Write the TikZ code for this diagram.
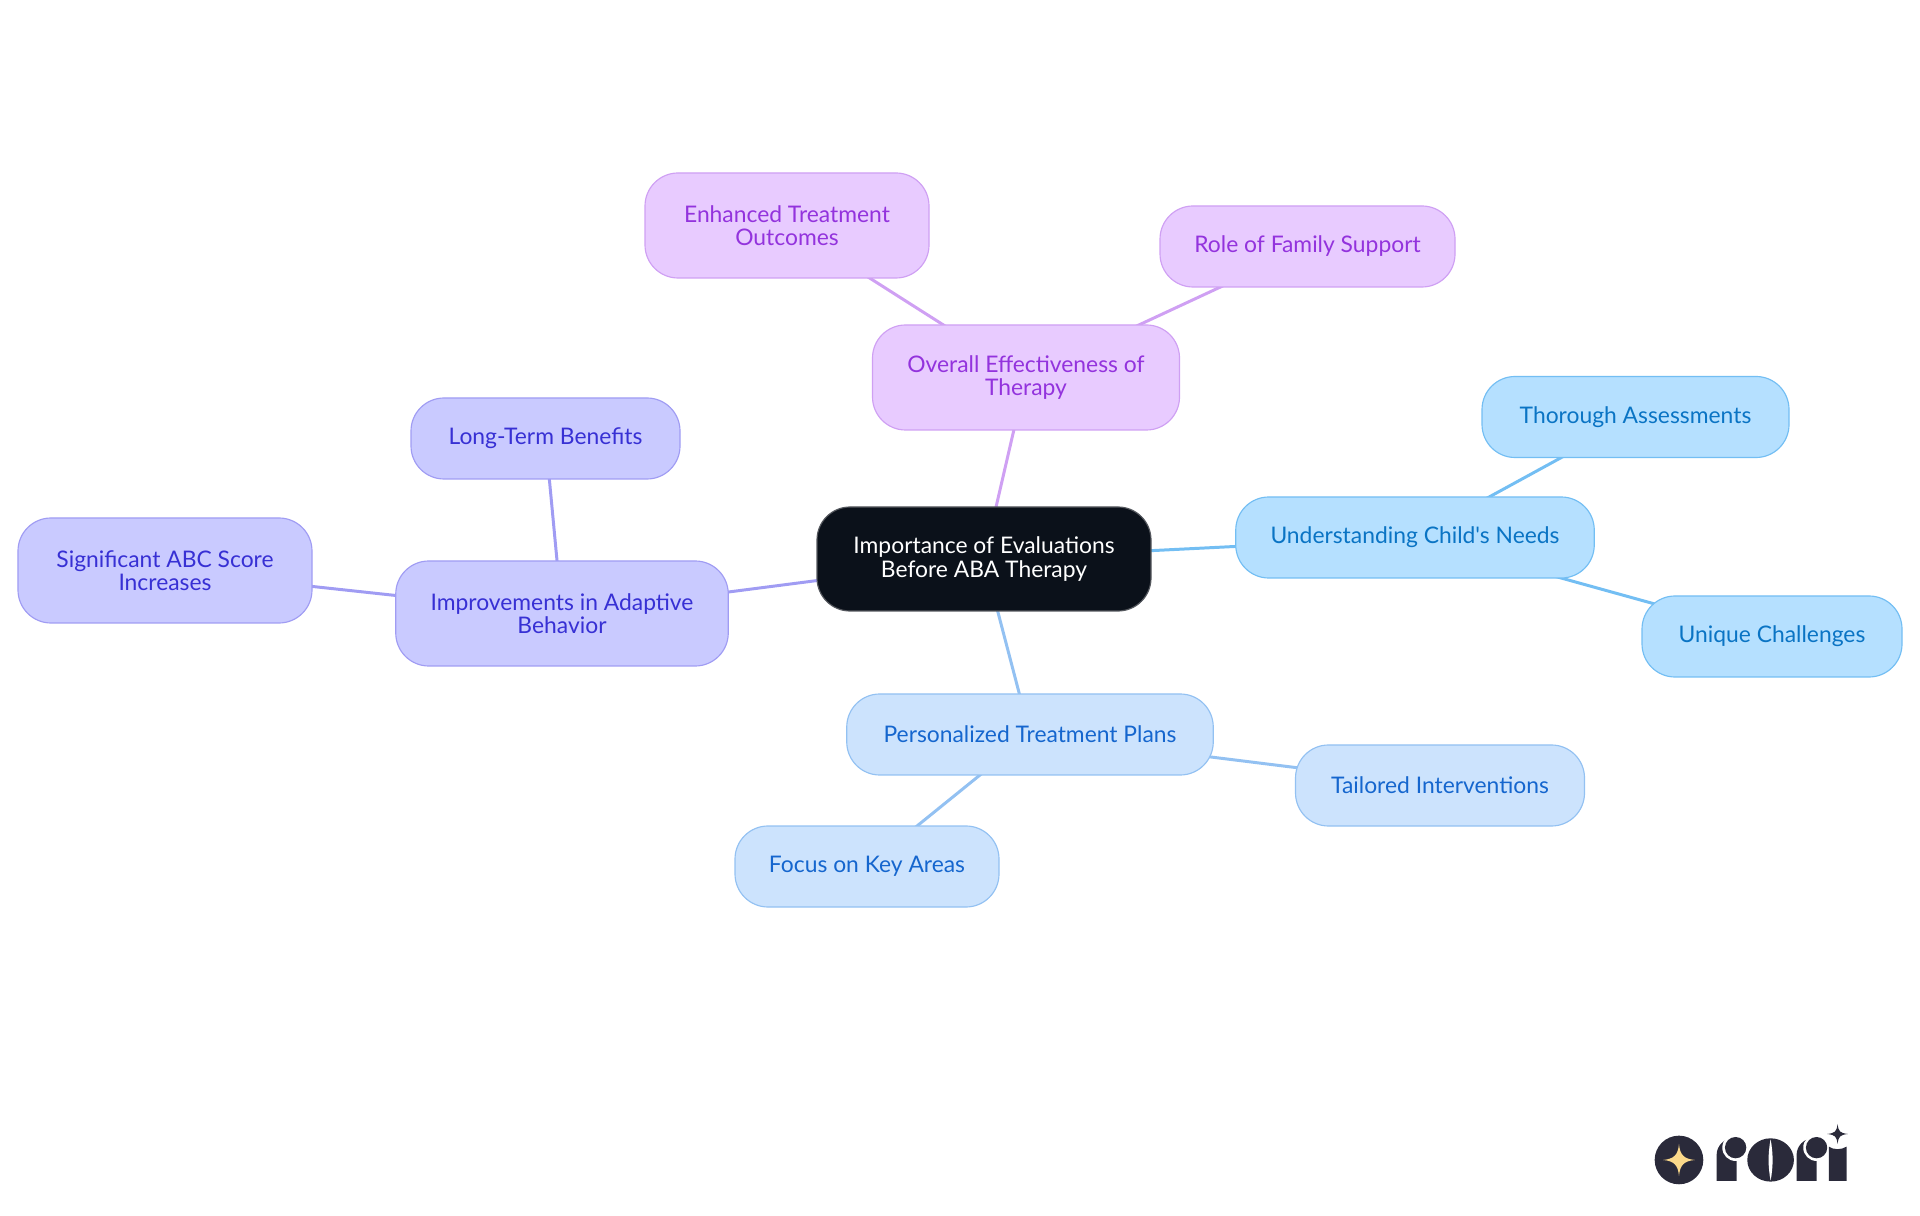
\documentclass[tikz,border=0pt]{standalone}
\usepackage{fontspec}
\newfontfamily\mapfont{Lato}
\usetikzlibrary{backgrounds}
\definecolor{rootfill}{HTML}{0B111A}
\definecolor{rootline}{HTML}{55585E}
\definecolor{purplefill}{HTML}{E8CBFF}
\definecolor{purpleline}{HTML}{CFA0F3}
\definecolor{purpletext}{HTML}{9333DD}
\definecolor{indigofill}{HTML}{C9CAFF}
\definecolor{indigoline}{HTML}{A09CF3}
\definecolor{indigotext}{HTML}{3730D4}
\definecolor{skyfill}{HTML}{B5E0FF}
\definecolor{skyline}{HTML}{73BEF3}
\definecolor{skytext}{HTML}{0A74C4}
\definecolor{bluefill}{HTML}{CCE3FD}
\definecolor{blueline}{HTML}{93C1F2}
\definecolor{bluetext}{HTML}{1566CE}
\definecolor{logodark}{HTML}{2A2A3A}
\definecolor{logostar}{HTML}{FBD98A}
\tikzset{
    mapbox/.style={rectangle,rounded corners=0.33cm,align=center,inner sep=0pt,line width=0.33pt,
        font={\mapfont\fontsize{6.5}{6.7}\selectfont\lineskiplimit=-10pt}},
    rootbox/.style={mapbox,draw=rootline,fill=rootfill,text=white},
    purplebox/.style={mapbox,draw=purpleline,fill=purplefill,text=purpletext},
    indigobox/.style={mapbox,draw=indigoline,fill=indigofill,text=indigotext},
    skybox/.style={mapbox,draw=skyline,fill=skyfill,text=skytext},
    bluebox/.style={mapbox,draw=blueline,fill=bluefill,text=bluetext},
    sized/.style 2 args={minimum width=#1cm,minimum height=#2cm},
    edge/.style={line width=0.85pt}
}
\begin{document}
\begin{tikzpicture}
    \useasboundingbox (0,0) rectangle (19.2,12.15);
    %% root
    \node[rootbox,sized={3.34}{1.04}] (root) at (9.84,6.56) {Importance of Evaluations\\Before ABA Therapy};
    %% overall effectiveness
    \node[purplebox,sized={3.07}{1.05}] (overall) at (10.26,8.375) {Overall Effectiveness of\\Therapy};
    \node[purplebox,sized={2.84}{1.05}] (enhanced) at (7.87,9.895) {Enhanced Treatment\\Outcomes};
    \node[purplebox,sized={2.95}{0.81}] (family) at (13.075,9.685) {Role of Family Support};
    %% child's needs
    \node[skybox,sized={3.585}{0.81}] (needs) at (14.15,6.775) {Understanding Child's Needs};
    \node[skybox,sized={3.07}{0.81}] (thorough) at (16.355,7.98) {Thorough Assessments};
    \node[skybox,sized={2.60}{0.81}] (unique) at (17.72,5.785) {Unique Challenges};
    %% treatment plans
    \node[bluebox,sized={3.665}{0.81}] (plans) at (10.30,4.805) {Personalized Treatment Plans};
    \node[bluebox,sized={2.89}{0.81}] (tailored) at (14.40,4.295) {Tailored Interventions};
    \node[bluebox,sized={2.64}{0.81}] (focus) at (8.67,3.485) {Focus on Key Areas};
    %% adaptive behavior
    \node[indigobox,sized={3.325}{1.05}] (adaptive) at (5.62,6.015) {Improvements in Adaptive\\Behavior};
    \node[indigobox,sized={2.69}{0.81}] (longterm) at (5.455,7.765) {Long-Term Benefits};
    \node[indigobox,sized={2.94}{1.05}] (abc) at (1.65,6.445) {Significant ABC Score\\Increases};
    %% connectors
    \begin{pgfonlayer}{background}
        \draw[edge,purpleline] (root.center) -- (overall.center);
        \draw[edge,purpleline] (overall.center) -- (enhanced.center);
        \draw[edge,purpleline] (overall.center) -- (family.center);
        \draw[edge,skyline] (root.center) -- (needs.center);
        \draw[edge,skyline] (needs.center) -- (thorough.center);
        \draw[edge,skyline] (needs.center) -- (unique.center);
        \draw[edge,blueline] (root.center) -- (plans.center);
        \draw[edge,blueline] (plans.center) -- (tailored.center);
        \draw[edge,blueline] (plans.center) -- (focus.center);
        \draw[edge,indigoline] (root.center) -- (adaptive.center);
        \draw[edge,indigoline] (adaptive.center) -- (longterm.center);
        \draw[edge,indigoline] (adaptive.center) -- (abc.center);
    \end{pgfonlayer}
    %% logo
    \begin{scope}[shift={(16.2,1.15)},x=0.01cm/3,y=-0.01cm/3]
        \fill[logodark] (177,180) circle (73);
        \fill[logostar] (177,132) .. controls (180,165) and (192,177) .. (225,180) .. controls (192,183) and (180,195) .. (177,228) .. controls (174,195) and (162,183) .. (129,180) .. controls (162,177) and (174,165) .. (177,132) -- cycle;
        %% first r
        \fill[logodark] (290,243) -- (290,165) arc (180:270:50) -- (350,115) -- (350,243) -- cycle;
        \fill[white] (347,143) circle (40);
        \fill[logodark] (347,143) circle (32);
        %% o
        \fill[logodark] (452,180) ellipse (70 and 65);
        \fill[white] (452,118) .. controls (444,160) and (444,200) .. (452,242) .. controls (460,200) and (460,160) .. (452,118) -- cycle;
        %% second r
        \fill[logodark] (530,243) -- (530,165) arc (180:270:50) -- (590,115) -- (590,243) -- cycle;
        \fill[white] (590,143) circle (40);
        \fill[logodark] (590,143) circle (32);
        %% i
        \fill[logodark] (627,243) -- (627,140) .. controls (640,150) and (665,150) .. (680,140) -- (680,243) -- cycle;
        \fill[logodark] (653,72) .. controls (656,95) and (660,99) .. (684,102) .. controls (660,105) and (656,109) .. (653,132) .. controls (650,109) and (646,105) .. (622,102) .. controls (646,99) and (650,95) .. (653,72) -- cycle;
    \end{scope}
\end{tikzpicture}
\end{document}
